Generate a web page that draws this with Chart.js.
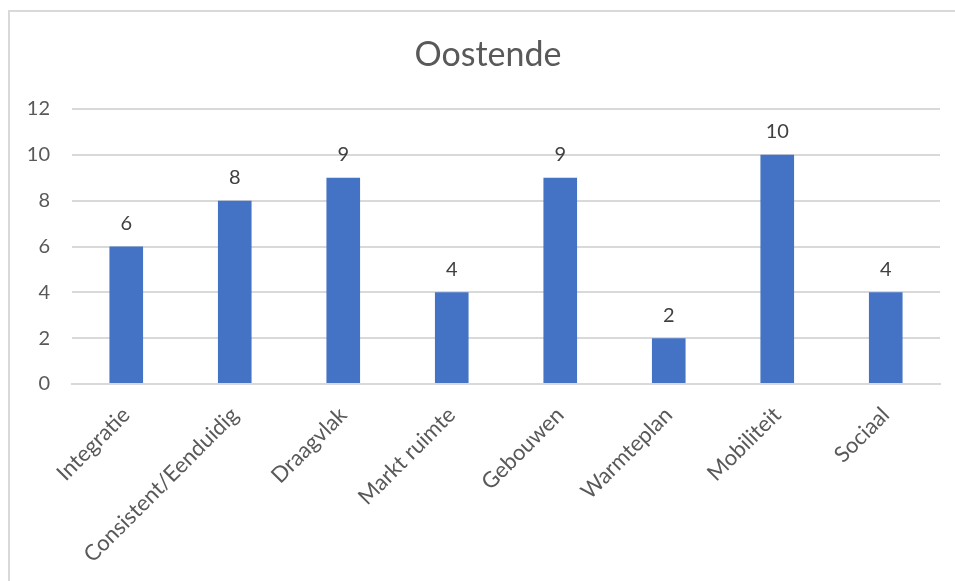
<!DOCTYPE html>
<html>
<head>
<meta charset="utf-8">
<script src="https://cdn.jsdelivr.net/npm/chart.js@4/dist/chart.umd.min.js"></script>
<style>
  html, body { margin: 0; padding: 0; background: #fff; overflow: hidden; }
  #wrap { position: relative; width: 955px; height: 581px; overflow: hidden; }
  #frame { position: absolute; left: 8px; top: 10px; width: 980px; height: 600px; border: 2px solid #d9d9d9; box-sizing: border-box; }
  #box { position: absolute; left: 0; top: 0; width: 976px; height: 581px; }
</style>
</head>
<body>
<div id="wrap">
  <div id="frame"></div>
  <div id="box"><canvas id="chart"></canvas></div>
</div>
<script>
const categories = ["Integratie", "Consistent/Eenduidig", "Draagvlak", "Markt ruimte", "Gebouwen", "Warmteplan", "Mobiliteit", "Sociaal"];
const values = [6, 8, 9, 4, 9, 2, 10, 4];
const yTicks = [0, 2, 4, 6, 8, 10, 12];
const chartTitle = "Oostende";

const fontFam = "Lato, 'Open Sans', sans-serif";
const grey = "#595959";

// titel gecentreerd over het hele kader, waarden boven de staven
const barLabels = {
    id: "barLabels",
    afterDraw(chart) {
        const ctx = chart.ctx;
        ctx.save();
        ctx.textAlign = "center";
        ctx.textBaseline = "middle";
        ctx.font = "34px " + fontFam;
        ctx.fillStyle = grey;
        ctx.fillText(chartTitle, chart.width / 2, 55);

        ctx.font = "20px " + fontFam;
        ctx.fillStyle = "#404040";
        const meta = chart.getDatasetMeta(0);
        meta.data.forEach((bar, i) => {
            ctx.fillText(String(values[i]), bar.x, bar.y - 23);
        });
        ctx.restore();
    }
};

new Chart(document.getElementById("chart"), {
    type: "bar",
    data: {
        labels: categories,
        datasets: [{
            data: values,
            backgroundColor: "#4472C4",
            borderWidth: 0,
            categoryPercentage: 1,
            barPercentage: 0.31
        }]
    },
    options: {
        responsive: true,
        maintainAspectRatio: false,
        animation: false,
        layout: { padding: { left: 0, right: 36, top: 109, bottom: 0 } },
        plugins: {
            legend: { display: false },
            tooltip: { enabled: false },
            title: { display: false }
        },
        scales: {
            x: {
                grid: { display: false },
                border: { display: true, color: "#d9d9d9", width: 2 },
                ticks: {
                    color: grey,
                    font: { family: fontFam, size: 22 },
                    minRotation: 45,
                    maxRotation: 45,
                    padding: 10
                },
                afterFit(scale) { scale.height = 197; }
            },
            y: {
                min: 0,
                max: 12,
                afterBuildTicks(scale) { scale.ticks = yTicks.map(v => ({ value: v })); },
                grid: { color: "#d9d9d9", lineWidth: 2, drawTicks: false },
                border: { display: false },
                ticks: {
                    color: grey,
                    font: { family: fontFam, size: 20 },
                    padding: 22
                },
                afterFit(scale) { scale.width = 72; }
            }
        }
    },
    plugins: [barLabels]
});
</script>
</body>
</html>
